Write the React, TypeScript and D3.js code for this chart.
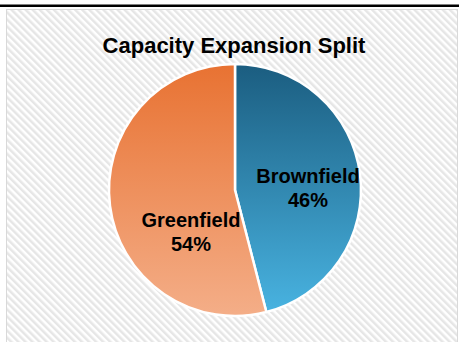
import React from "react";
import * as d3 from "d3";

const categories = ["Brownfield", "Greenfield"];
const values = [46, 54];
const percentLabels = ["46%", "54%"];
const title = "Capacity Expansion Split";

const W = 459;
const H = 342;

export default function App() {
  const cx = 235;
  const cy = 190;
  const r = 126;
  const pie = d3.pie<number>().sort(null).value((d) => d)(values);
  const arc = d3.arc<d3.PieArcDatum<number>>().innerRadius(0).outerRadius(r);
  const gradIds = ["gradBrown", "gradGreen"];
  const gradStops = [
    ["#1b5d80", "#49b4e2"],
    ["#e87232", "#f4ae88"],
  ];
  const labelPos: [number, number][] = [
    [308, 183],
    [191, 227],
  ];
  return (
    <svg
      width={W}
      height={H}
      style={{ position: "absolute", left: 0, top: 0, display: "block" }}
      fontFamily="'Liberation Sans', Arial, sans-serif"
    >
      <defs>
        <pattern
          id="stripes"
          width={5}
          height={5}
          patternUnits="userSpaceOnUse"
          patternTransform="rotate(-45)"
        >
          <rect x={0} y={0} width={5} height={5} fill="#ffffff" />
          <rect x={0} y={0} width={2.5} height={5} fill="#e6e6e6" />
        </pattern>
        {gradIds.map((id, i) => (
          <linearGradient
            key={id}
            id={id}
            gradientUnits="userSpaceOnUse"
            x1={0}
            y1={-r}
            x2={0}
            y2={r}
          >
            <stop offset="0%" stopColor={gradStops[i][0]} />
            <stop offset="100%" stopColor={gradStops[i][1]} />
          </linearGradient>
        ))}
      </defs>
      <rect x={0} y={0} width={W} height={H} fill="#ffffff" />
      <line x1={0} x2={W} y1={5.75} y2={5.75} stroke="#000" strokeWidth={2.5} />
      <rect
        x={6.5}
        y={9.5}
        width={451}
        height={H}
        fill="url(#stripes)"
        stroke="#d9d9d9"
        strokeWidth={1}
      />
      <text
        x={234}
        y={53}
        textAnchor="middle"
        fontSize={22}
        fontWeight="bold"
        fill="#000"
      >
        {title}
      </text>
      <g transform={`translate(${cx},${cy})`}>
        {pie.map((p, i) => (
          <path
            key={categories[i]}
            d={arc(p) || ""}
            fill={`url(#${gradIds[i]})`}
            stroke="#ffffff"
            strokeWidth={2.5}
            strokeLinejoin="round"
          />
        ))}
      </g>
      {categories.map((c, i) => (
        <g key={c}>
          <text
            x={labelPos[i][0]}
            y={labelPos[i][1]}
            textAnchor="middle"
            fontSize={20}
            fontWeight="bold"
            fill="#000"
          >
            {c}
          </text>
          <text
            x={labelPos[i][0]}
            y={labelPos[i][1] + 24}
            textAnchor="middle"
            fontSize={20}
            fontWeight="bold"
            fill="#000"
          >
            {percentLabels[i]}
          </text>
        </g>
      ))}
    </svg>
  );
}
